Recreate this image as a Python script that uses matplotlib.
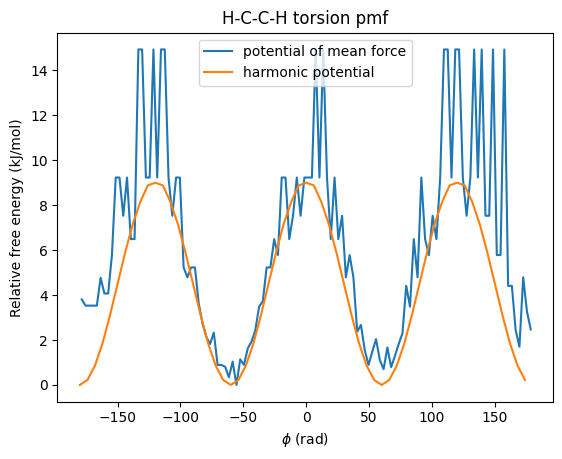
import numpy as np
import matplotlib
matplotlib.use("Agg")
import matplotlib.pyplot as plt

# torsion angle bins (3 degree bins, centres)
phi = np.arange(-178.5, 180, 3.0)

# potential of mean force (kJ/mol)
pmf = [3.81, 3.53, 3.53, 3.53, 3.53, 4.77, 4.07, 4.07, 5.78, 9.23,
       9.23, 7.53, 9.23, 6.49, 6.49, 14.93, 14.93, 9.23, 9.23, 14.93,
       9.23, 14.93, 14.93, 9.23, 7.53, 9.23, 9.23, 5.23, 4.79, 5.23,
       5.23, 3.63, 2.74, 2.15, 1.82, 2.33, 0.89, 0.89, 0.81, 0.34,
       1.04, 0.00, 1.14, 0.89, 1.63, 1.93, 2.44, 3.48, 3.73, 5.23,
       5.23, 6.49, 5.78, 9.23, 9.23, 6.49, 7.53, 9.23, 7.53, 9.23,
       9.23, 9.23, 14.93, 9.23, 14.93, 9.23, 6.49, 9.23, 6.49, 7.53,
       4.79, 5.78, 4.79, 2.37, 2.67, 1.56, 0.89, 1.48, 2.04, 1.11,
       0.70, 1.67, 0.79, 1.29, 1.82, 2.30, 4.41, 3.48, 6.49, 4.79,
       9.23, 6.49, 5.78, 7.53, 6.49, 9.23, 14.93, 14.93, 9.23, 14.93,
       14.93, 9.23, 7.53, 9.23, 14.93, 9.23, 14.93, 7.53, 7.53, 14.93,
       5.78, 5.78, 14.93, 4.41, 4.41, 2.44, 1.70, 4.79, 3.26, 2.47]

# harmonic potential, every 6 degrees
phi_h = np.arange(-180, 180, 6.0)
harm = [0.00, 0.22, 0.86, 1.85, 3.11, 4.50, 5.89, 7.15, 8.14, 8.88,
        9.00, 8.88, 8.14, 7.15, 5.89, 4.50, 3.11, 1.85, 0.86, 0.22,
        0.00, 0.22, 0.86, 1.85, 3.11, 4.50, 5.89, 7.15, 8.14, 8.88,
        9.00, 8.88, 8.14, 7.15, 5.89, 4.50, 3.11, 1.85, 0.86, 0.22,
        0.00, 0.22, 0.86, 1.85, 3.11, 4.50, 5.89, 7.15, 8.14, 8.88,
        9.00, 8.88, 8.14, 7.15, 5.89, 4.50, 3.11, 1.85, 0.86, 0.22]

fig = plt.figure(figsize=(5.62, 4.59), dpi=100)
fig.subplots_adjust(left=0.102, right=0.9845, top=0.9288, bottom=0.1248)
ax = fig.add_subplot(111)

ax.plot(phi, pmf, label='potential of mean force')
ax.plot(phi_h, harm, label='harmonic potential')

ax.set_xlabel(r'$\phi$ (rad)')
ax.set_ylabel('Relative free energy (kJ/mol)')
ax.set_title('H-C-C-H torsion pmf')
ax.legend(loc='upper center')

fig.savefig('out.png', dpi=100)
